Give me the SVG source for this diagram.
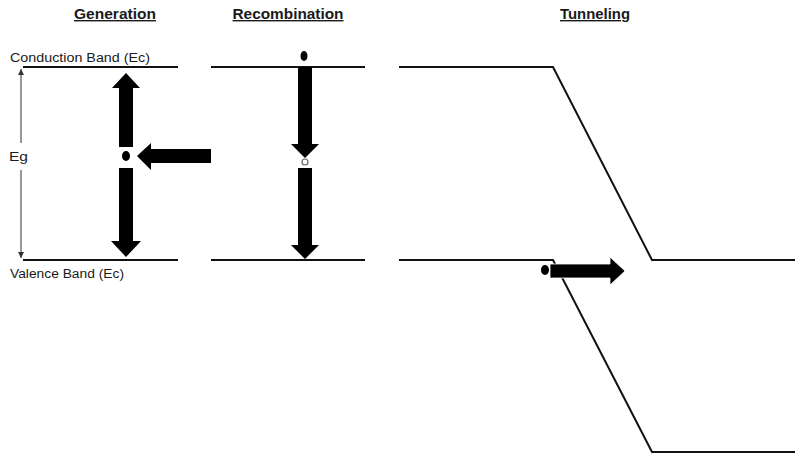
<svg xmlns="http://www.w3.org/2000/svg" width="795" height="454" viewBox="0 0 795 454">
<defs>
<style>
.title{font-family:"Liberation Sans",Arial,sans-serif;font-weight:bold;font-size:14px;fill:#1a1a1a;text-decoration:underline;}
.lbl{font-family:"Liberation Sans",Arial,sans-serif;font-size:12.5px;fill:#1a1a1a;}
.band{stroke:#111;stroke-width:2;fill:none;}
.arr{fill:#000;}
.eg{stroke:#333;stroke-width:1;fill:none;}
</style>
<marker id="tick" viewBox="0 0 6 6" refX="6" refY="3" markerWidth="6" markerHeight="6" orient="auto" markerUnits="userSpaceOnUse">
<path d="M0,0 L6,3 L0,6 Z" fill="#333"/>
</marker>
</defs>
<rect width="795" height="454" fill="#fff"/>

<g id="titles">
<text class="title" x="115" y="19" text-anchor="middle" textLength="82" lengthAdjust="spacingAndGlyphs">Generation</text>
<text class="title" x="288" y="19" text-anchor="middle" textLength="111" lengthAdjust="spacingAndGlyphs">Recombination</text>
<text class="title" x="595" y="19" text-anchor="middle" textLength="70" lengthAdjust="spacingAndGlyphs">Tunneling</text>
</g>

<g id="labels">
<text class="lbl" x="10" y="62" textLength="140" lengthAdjust="spacingAndGlyphs">Conduction Band (Ec)</text>
<text class="lbl" x="10" y="278" textLength="114" lengthAdjust="spacingAndGlyphs">Valence Band (Ec)</text>
<text class="lbl" x="9" y="161" textLength="19" lengthAdjust="spacingAndGlyphs">Eg</text>
</g>

<g id="bands">
<line class="band" x1="23" y1="67" x2="178" y2="67"/>
<line class="band" x1="211" y1="67" x2="365" y2="67"/>
<line class="band" x1="23" y1="260" x2="178" y2="260"/>
<line class="band" x1="211" y1="260" x2="365" y2="260"/>
<polyline class="band" points="399,67 553,67 652,260 795,260"/>
<polyline class="band" points="399,260 553,260 652,452 795,452"/>
</g>

<g id="connectors">
<line class="eg" x1="21" y1="143" x2="21" y2="69" marker-end="url(#tick)"/>
<line class="eg" x1="21" y1="170" x2="21" y2="258" marker-end="url(#tick)"/>
</g>

<g id="generation">
<polygon class="arr" points="126,73 140,88 133,88 133,147 119,147 119,88 112,88"/>
<polygon class="arr" points="126,257 141,241 133,241 133,168 119,168 119,241 111,241"/>
<ellipse cx="126" cy="156" rx="4" ry="5" fill="#000"/>
<polygon class="arr" points="137,156 151,143 151,149 211,149 211,163 151,163 151,170"/>
</g>

<g id="recombination">
<ellipse cx="304" cy="56" rx="3.5" ry="5" fill="#000"/>
<polygon class="arr" points="305,158 319,144 312,144 312,67 298,67 298,144 291,144"/>
<circle cx="305" cy="162" r="3" fill="#fff" stroke="#666" stroke-width="1.2"/>
<polygon class="arr" points="305,259 319,245 312,245 312,168 298,168 298,245 291,245"/>
</g>

<g id="tunneling">
<ellipse cx="545" cy="270" rx="4" ry="5" fill="#000"/>
<polygon class="arr" points="625,271 610,257 610,264 550,264 550,278 610,278 610,285" stroke="#fff" stroke-width="0.8"/>
</g>
</svg>
